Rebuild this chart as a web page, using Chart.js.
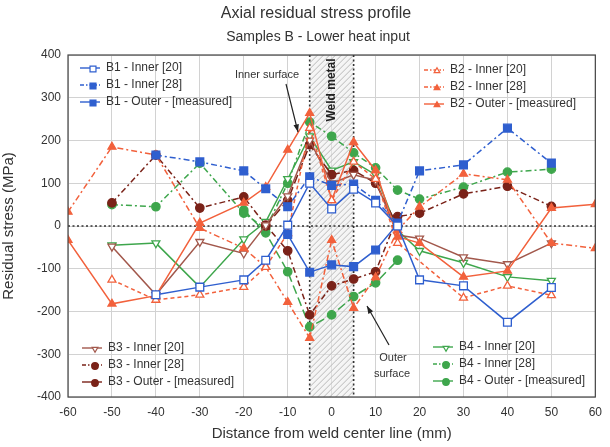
<!DOCTYPE html>
<html>
<head>
<meta charset="utf-8">
<title>Axial residual stress profile</title>
<script src="https://cdn.jsdelivr.net/npm/chart.js"></script>
<style>
  body { margin: 0; background: #fff; }
</style>
</head>
<body>
<canvas id="chart" width="610" height="447"></canvas>
<script>
// positions along the weld (mm), shared by every series; null = no point
const xs = [-60, -50, -40, -30, -20, -15, -10, -5, 0, 5, 10, 15, 20, 30, 40, 50, 60];

const b1Inner20 = [null, null, -161, -143, -126, -80, 2, 100, 40, 86, 54, 0, -126, -140, -225, -144, null];
const b1Inner28 = [null, null, 166, 150, 129, 87, 45, 115, 95, 98, 60, 7, 129, 143, 229, 147, null];
const b1Outer   = [null, null, null, null, null, null, -20, -108, -91, -95, -56, 5, null, null, null, null, null];

const b2Inner20 = [null, -126, -173, -161, -143, -96, -17, 229, 60, 150, 110, -40, null, -168, -140, -162, null];
const b2Inner28 = [33, 185, 166, -5, -52, -96, -178, -262, -33, -192, -120, -10, 45, 122, 108, -40, -52];
const b2Outer   = [-33, -182, -163, 7, 54, 91, 178, 264, 60, 196, 130, -25, -40, -119, -105, 42, 51];

const b3Inner20 = [null, -48, -161, -37, -64, 2, 70, 200, 100, 120, 107, -21, -29, -73, -89, -40, null];
const b3Inner28 = [null, 54, 166, 42, 68, 2, -58, -208, -140, -124, -107, 22, 30, 75, 93, 46, null];
const b3Outer   = [null, null, null, null, null, 0, 60, 190, 120, 130, 100, 0, null, null, null, null, null];

const b4Inner20 = [null, -45, -40, -143, -31, 10, 110, 210, 130, 150, 120, -10, -58, -86, -119, -128, null];
const b4Inner28 = [null, 50, 45, 147, 30, -6, 100, 243, 210, 171, 136, 84, 63, 91, 126, 133, null];
const b4Outer   = [null, null, null, null, 37, -16, -107, -236, -208, -165, -133, -80, null, null, null, null, null];

const xTicks = [-60, -50, -40, -30, -20, -10, 0, 10, 20, 30, 40, 50, 60];
const yTicks = [-400, -300, -200, -100, 0, 100, 200, 300, 400];

const font = "'Liberation Sans', Arial, sans-serif";
const BLUE = '#2f5fcf', ORANGE = '#f2613c', BROWN = '#7a2218', BROWN2 = '#a2584c', GREEN = '#3ea64c';

function pts(vals) {
    return xs.map((x, i) => vals[i] === null ? null : { x: x, y: vals[i] }).filter(p => p);
}

// inner [20] = solid, open marker; inner [28] = dash-dot; outer = long dash
function series(label, vals, color, kind, marker, rot) {
    const dash = kind === 'in20' ? [] : kind === 'in28' ? [6, 3, 2, 3] : [9, 4];
    const r = marker === 'rect' ? 5.5 : marker === 'triangle' ? 4.6 : 4.2;
    return {
        label: label,
        data: pts(vals),
        borderColor: color,
        borderWidth: 1.5,
        borderDash: dash,
        pointStyle: marker,
        pointRotation: rot || 0,
        pointRadius: r,
        pointBorderWidth: 1.3,
        pointBorderColor: color,
        pointBackgroundColor: kind === 'in20' ? '#fff' : color,
        tension: 0
    };
}

const datasets = [
    series('B1 - Inner [20]', b1Inner20, BLUE, 'in20', 'rect'),
    series('B1 - Inner [28]', b1Inner28, BLUE, 'in28', 'rect'),
    series('B1 - Outer - [measured]', b1Outer, BLUE, 'out', 'rect'),
    series('B2 - Inner [20]', b2Inner20, ORANGE, 'in20', 'triangle'),
    series('B2 - Inner [28]', b2Inner28, ORANGE, 'in28', 'triangle'),
    series('B2 - Outer - [measured]', b2Outer, ORANGE, 'out', 'triangle'),
    series('B3 - Inner [20]', b3Inner20, BROWN2, 'in20', 'triangle', 180),
    series('B3 - Inner [28]', b3Inner28, BROWN, 'in28', 'circle'),
    series('B3 - Outer - [measured]', b3Outer, BROWN, 'out', 'circle'),
    series('B4 - Inner [20]', b4Inner20, GREEN, 'in20', 'triangle', 180),
    series('B4 - Inner [28]', b4Inner28, GREEN, 'in28', 'circle'),
    series('B4 - Outer - [measured]', b4Outer, GREEN, 'out', 'circle')
];
datasets[2].borderDash = [];  // outer lines of B1/B2 read as solid
datasets[5].borderDash = [];
datasets[3].borderDash = [4, 3];

// hatched weld band, dotted zero line and band edges
const weldBand = {
    id: 'weldBand',
    beforeDatasetsDraw(chart) {
        const { ctx, chartArea: a, scales: { x, y } } = chart;
        const l = x.getPixelForValue(-5), r = x.getPixelForValue(5);
        ctx.save();
        ctx.beginPath();
        ctx.rect(l, a.top, r - l, a.bottom - a.top);
        ctx.clip();
        ctx.fillStyle = 'rgba(235,235,235,0.5)';
        ctx.fillRect(l, a.top, r - l, a.bottom - a.top);
        ctx.strokeStyle = '#b8b8b8';
        ctx.lineWidth = 1;
        for (let k = a.top - 60; k < a.bottom + 60; k += 6) {
            ctx.beginPath();
            ctx.moveTo(l, k + (r - l));
            ctx.lineTo(r, k);
            ctx.stroke();
        }
        ctx.restore();

        ctx.save();
        ctx.strokeStyle = '#333';
        ctx.lineWidth = 1.6;
        ctx.setLineDash([2, 2.5]);
        const y0 = y.getPixelForValue(0);
        ctx.beginPath();
        ctx.moveTo(a.left, y0); ctx.lineTo(a.right, y0);
        ctx.moveTo(l, a.top); ctx.lineTo(l, a.bottom);
        ctx.moveTo(r, a.top); ctx.lineTo(r, a.bottom);
        ctx.stroke();
        ctx.restore();

        ctx.save();
        ctx.translate((l + r) / 2, a.top + 35);
        ctx.rotate(-Math.PI / 2);
        ctx.font = 'bold 12px ' + font;
        ctx.fillStyle = '#222';
        ctx.textAlign = 'center';
        ctx.textBaseline = 'middle';
        ctx.fillText('Weld metal', 0, 0);
        ctx.restore();
    }
};

function arrow(ctx, x1, y1, x2, y2) {
    const ang = Math.atan2(y2 - y1, x2 - x1);
    ctx.beginPath();
    ctx.moveTo(x1, y1); ctx.lineTo(x2, y2);
    ctx.stroke();
    ctx.beginPath();
    ctx.moveTo(x2, y2);
    ctx.lineTo(x2 - 8 * Math.cos(ang - 0.35), y2 - 8 * Math.sin(ang - 0.35));
    ctx.lineTo(x2 - 8 * Math.cos(ang + 0.35), y2 - 8 * Math.sin(ang + 0.35));
    ctx.closePath();
    ctx.fill();
}

// titles, frame, four legend blocks and the two callouts
const decorations = {
    id: 'decorations',
    afterDraw(chart) {
        const { ctx, chartArea: a } = chart;
        ctx.save();
        ctx.fillStyle = '#333';
        ctx.textAlign = 'center';
        ctx.textBaseline = 'middle';
        ctx.font = '16px ' + font;
        ctx.fillText('Axial residual stress profile', 316, 14);
        ctx.font = '14px ' + font;
        ctx.fillText('Samples B - Lower heat input', 318, 37);

        ctx.strokeStyle = '#444';
        ctx.lineWidth = 1.2;
        ctx.strokeRect(a.left, a.top, a.right - a.left, a.bottom - a.top);

        // callouts
        ctx.font = '11px ' + font;
        ctx.fillStyle = '#333';
        ctx.fillText('Inner surface', 267, 75);
        ctx.fillText('Outer', 393, 358);
        ctx.fillText('surface', 392, 374);
        ctx.strokeStyle = '#222';
        ctx.fillStyle = '#222';
        ctx.lineWidth = 1.2;
        arrow(ctx, 286, 84, 298, 132);
        arrow(ctx, 389, 345, 367, 306);

        // legends
        const blocks = [
            { x: 80, y: 68, idx: [0, 1, 2] },
            { x: 424, y: 70, idx: [3, 4, 5] },
            { x: 82, y: 348, idx: [6, 7, 8] },
            { x: 433, y: 347, idx: [9, 10, 11] }
        ];
        blocks.forEach(b => {
            b.idx.forEach((di, k) => {
                const ds = chart.data.datasets[di];
                const yy = b.y + k * 17;
                ctx.save();
                ctx.strokeStyle = ds.borderColor;
                ctx.lineWidth = 1.4;
                ctx.setLineDash(ds.borderDash.length ? [4, 2, 1.5, 2] : []);
                if (di === 2 || di === 5 || di === 8 || di === 11) ctx.setLineDash([]);
                ctx.beginPath();
                ctx.moveTo(b.x, yy); ctx.lineTo(b.x + 20, yy);
                ctx.stroke();
                ctx.setLineDash([]);
                ctx.fillStyle = ds.pointBackgroundColor;
                ctx.lineWidth = 1.2;
                Chart.helpers.drawPoint(ctx, {
                    pointStyle: ds.pointStyle, rotation: ds.pointRotation,
                    radius: ds.pointStyle === 'rect' ? 4.2 : 3.3, borderWidth: 1.2
                }, b.x + 13, yy + 1);
                ctx.fillStyle = '#333';
                ctx.textAlign = 'left';
                ctx.textBaseline = 'middle';
                ctx.font = '12px ' + font;
                ctx.fillText(ds.label, b.x + 26, yy);
                ctx.restore();
            });
        });
        ctx.restore();
    }
};

new Chart(document.getElementById('chart'), {
    type: 'line',
    data: { datasets: datasets },
    options: {
        responsive: false,
        animation: false,
        layout: { padding: { top: 55, right: 11, bottom: 4, left: 0 } },
        plugins: { legend: { display: false }, tooltip: { enabled: false } },
        scales: {
            x: {
                type: 'linear',
                min: -60, max: 60,
                afterBuildTicks: s => { s.ticks = xTicks.map(v => ({ value: v })); },
                afterFit: s => { s.height = 46; },
                grid: { color: '#d2d2d2', drawTicks: false },
                border: { display: false },
                ticks: { color: '#333', font: { family: font, size: 12 }, padding: 8 },
                title: { display: true, text: 'Distance from weld center line (mm)', color: '#333', font: { family: font, size: 15 }, padding: { top: 2, bottom: 0 } }
            },
            y: {
                min: -400, max: 400,
                afterBuildTicks: s => { s.ticks = yTicks.map(v => ({ value: v })); },
                afterFit: s => { s.width = 68; },
                grid: { color: '#d2d2d2', drawTicks: false },
                border: { display: false },
                ticks: { color: '#333', font: { family: font, size: 12 }, padding: 7 },
                title: { display: true, text: 'Residual stress (MPa)', color: '#333', font: { family: font, size: 15 }, padding: { top: 0, bottom: 2 } }
            }
        }
    },
    plugins: [weldBand, decorations]
});
</script>
</body>
</html>
